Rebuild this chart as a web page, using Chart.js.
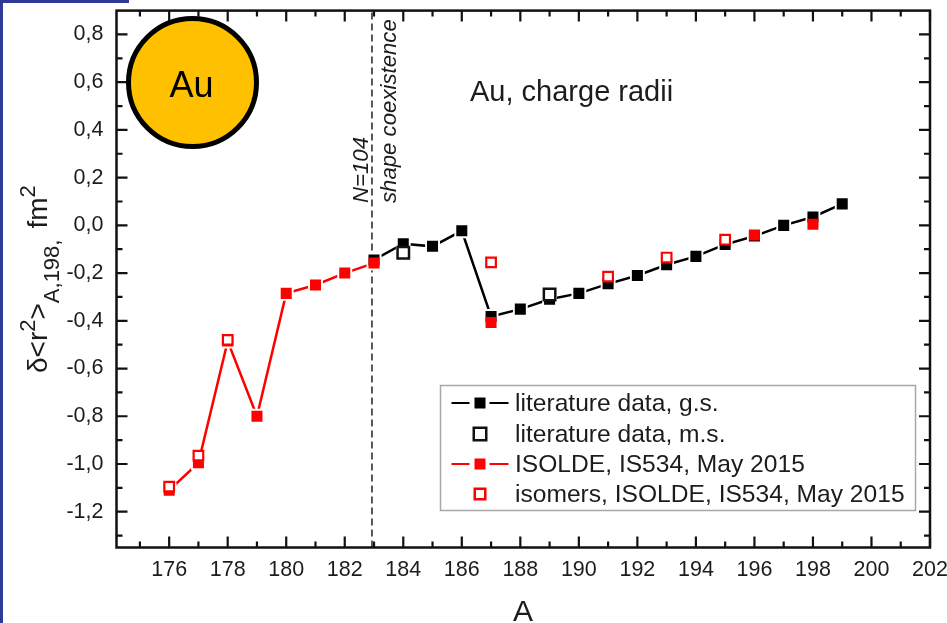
<!DOCTYPE html>
<html>
<head>
<meta charset="utf-8">
<script src="https://cdn.jsdelivr.net/npm/chart.js@4"></script>
<style>
  html, body { margin: 0; padding: 0; background: #fff; overflow: hidden; }
  #wrap { position: relative; width: 947px; height: 623px; }
  #bandLeft { position: absolute; left: 0; top: 0; width: 3px; height: 623px; background: #2e3a97; }
  #bandTop { position: absolute; left: 0; top: 0; width: 129px; height: 3px; background: #2e3a97; }
</style>
</head>
<body>
<div id="wrap">
  <canvas id="myChart" width="947" height="623"></canvas>
  <div id="bandLeft"></div>
  <div id="bandTop"></div>
</div>
<script>
// Valeurs
const masses = [176, 177, 178, 179, 180, 181, 182, 183, 184, 185, 186, 187, 188, 189, 190, 191, 192, 193, 194, 195, 196, 197, 198, 199];
const litGs = [null, null, null, null, null, null, null, -0.145, -0.077, -0.088, -0.023, -0.382, -0.351, -0.31, -0.285, -0.245, -0.21, -0.165, -0.13, -0.08, -0.045, 0, 0.035, 0.09];
const litMs = [null, null, null, null, null, null, null, null, -0.115, null, null, null, null, -0.29, null, null, null, null, null, null, null, null, null, null];
const isoldeGs = [-1.11, -0.995, -0.485, -0.8, -0.285, -0.25, -0.2, -0.158, null, null, null, -0.407, null, null, null, null, null, null, null, null, -0.04, null, 0.005, null];
const isoldeLine = [-1.11, -0.995, -0.485, -0.8, -0.285, -0.25, -0.2, -0.158];
const isomers = [-1.095, -0.965, -0.48, null, null, null, null, null, null, null, null, -0.155, null, null, null, -0.215, null, -0.135, null, -0.06, null, null, null, null];

const xMajor = [176, 178, 180, 182, 184, 186, 188, 190, 192, 194, 196, 198, 200, 202];
const xMinor = [175, 177, 179, 181, 183, 185, 187, 189, 191, 193, 195, 197, 199, 201];
const yMajor = [-1.2, -1, -0.8, -0.6, -0.4, -0.2, 0, 0.2, 0.4, 0.6, 0.8];
const yMinor = [-1.3, -1.1, -0.9, -0.7, -0.5, -0.3, -0.1, 0.1, 0.3, 0.5, 0.7];
const xRange = [174.2, 202];
const yRange = [-1.35, 0.9];
const shapeLineX = 182.93;

const legendLabels = ['literature data, g.s.', 'literature data, m.s.', 'ISOLDE, IS534, May 2015', 'isomers, ISOLDE, IS534, May 2015'];
const FONT = '"Liberation Sans", Arial, sans-serif';
const INK = '#1c1c1c';
const RED = '#ff0000';

function pts(values) {
    return values.map((v, i) => ({ x: masses[i], y: v }));
}

// Cadre et graduations vers l'intérieur, sur les quatre côtés
function drawFrame(chart) {
    const { ctx, chartArea: a, scales: { x, y } } = chart;
    ctx.save();
    ctx.strokeStyle = '#111';
    ctx.lineWidth = 2.2;
    ctx.beginPath();
    const tick = (px, py, dx, dy) => { ctx.moveTo(px, py); ctx.lineTo(px + dx, py + dy); };
    xMajor.forEach(v => { const p = x.getPixelForValue(v); tick(p, a.bottom, 0, -11); tick(p, a.top, 0, 11); });
    xMinor.forEach(v => { const p = x.getPixelForValue(v); tick(p, a.bottom, 0, -6); tick(p, a.top, 0, 6); });
    yMajor.forEach(v => { const p = y.getPixelForValue(v); tick(a.left, p, 11, 0); tick(a.right, p, -11, 0); });
    yMinor.forEach(v => { const p = y.getPixelForValue(v); tick(a.left, p, 6, 0); tick(a.right, p, -6, 0); });
    ctx.stroke();
    ctx.lineWidth = 2.5;
    ctx.strokeRect(a.left, a.top, a.right - a.left, a.bottom - a.top);
    ctx.restore();
}

function drawNotes(chart) {
    const ctx = chart.ctx;
    ctx.save();
    ctx.textBaseline = 'alphabetic';

    // pastille Au
    ctx.beginPath();
    ctx.arc(192.5, 82.5, 64, 0, Math.PI * 2);
    ctx.fillStyle = '#ffc000';
    ctx.fill();
    ctx.lineWidth = 5;
    ctx.strokeStyle = '#000';
    ctx.stroke();
    ctx.fillStyle = '#000';
    ctx.textAlign = 'center';
    ctx.font = '36px ' + FONT;
    ctx.fillText('Au', 191.5, 97);

    ctx.fillStyle = INK;
    ctx.textAlign = 'left';
    ctx.font = '29px ' + FONT;
    ctx.fillText('Au, charge radii', 470, 100.5);
    ctx.font = '30px ' + FONT;
    ctx.fillText('A', 513, 621);

    // textes verticaux
    ctx.font = 'italic 22.2px ' + FONT;
    ctx.save();
    ctx.translate(368, 203);
    ctx.rotate(-Math.PI / 2);
    ctx.fillText('N=104', 0, 0);
    ctx.restore();
    ctx.save();
    ctx.translate(396, 203);
    ctx.rotate(-Math.PI / 2);
    ctx.fillText('shape coexistence', 0, 0);
    ctx.restore();

    // titre de l'axe Y, morceau par morceau
    ctx.save();
    ctx.translate(46.5, 373);
    ctx.rotate(-Math.PI / 2);
    const parts = [
        ['δ<r', 28, 0, 0],
        ['2', 22, -12, 0],
        ['>', 28, 0, 0],
        ['A,198,', 22, 12, 11],
        ['fm', 28, 0, 0],
        ['2', 22, -12, 0]
    ];
    let pos = 0;
    parts.forEach(p => {
        ctx.font = p[1] + 'px ' + FONT;
        ctx.fillText(p[0], pos, p[2]);
        pos += ctx.measureText(p[0]).width + p[3];
    });
    ctx.restore();

    // légende
    ctx.fillStyle = '#fff';
    ctx.fillRect(440.5, 385.5, 475, 125);
    ctx.strokeStyle = '#a8a8a8';
    ctx.lineWidth = 1.5;
    ctx.strokeRect(440.5, 385.5, 475, 125);
    const rowY = [403, 434, 464, 494];
    const sx = 480;
    ctx.font = '24.6px ' + FONT;
    legendLabels.forEach((label, i) => {
        const ly = rowY[i];
        ctx.fillStyle = INK;
        ctx.textAlign = 'left';
        ctx.fillText(label, 515, ly + 8);
        if (i === 0 || i === 2) {
            ctx.strokeStyle = i === 0 ? '#000' : RED;
            ctx.lineWidth = 2.2;
            ctx.beginPath();
            ctx.moveTo(451.5, ly); ctx.lineTo(469.5, ly);
            ctx.moveTo(489.5, ly); ctx.lineTo(508.5, ly);
            ctx.stroke();
            ctx.fillStyle = i === 0 ? '#000' : RED;
            ctx.fillRect(sx - 5.5, ly - 5.5, 11, 11);
        } else {
            ctx.strokeStyle = i === 1 ? '#111' : RED;
            ctx.lineWidth = 2.5;
            const s = i === 1 ? 12.5 : 10.5;
            ctx.strokeRect(sx - s / 2, ly - s / 2, s, s);
        }
    });
    ctx.restore();
}

const frameAndNotes = {
    id: 'frameAndNotes',
    afterDatasetsDraw(chart) {
        drawFrame(chart);
        drawNotes(chart);
    }
};

function axis(range, major, extra) {
    return Object.assign({
        type: 'linear',
        min: range[0],
        max: range[1],
        grid: { display: false },
        border: { display: false },
        afterBuildTicks: s => { s.ticks = major.map(v => ({ value: v })); }
    }, extra);
}

const ctx = document.getElementById('myChart').getContext('2d');
new Chart(ctx, {
    type: 'line',
    data: {
        datasets: [
            // droite N=104
            { data: [{ x: shapeLineX, y: yRange[0] }, { x: shapeLineX, y: yRange[1] }], borderColor: '#222', borderWidth: 1.5, borderDash: [7, 4], pointRadius: 0, order: 9 },
            // lignes, avec un halo blanc qui coupe le trait autour des symboles
            { data: pts(litGs), borderColor: '#000', borderWidth: 2.5, pointStyle: 'rect', pointRadius: 10.5, pointBackgroundColor: '#fff', pointBorderWidth: 0, order: 8 },
            { data: pts(isoldeLine), borderColor: RED, borderWidth: 2.5, pointStyle: 'rect', pointRadius: 10.5, pointBackgroundColor: '#fff', pointBorderWidth: 0, order: 7 },
            // symboles
            { label: legendLabels[0], data: pts(litGs), showLine: false, pointStyle: 'rect', pointRadius: 7.8, pointBackgroundColor: '#000', pointBorderWidth: 0, order: 6 },
            { label: legendLabels[2], data: pts(isoldeGs), showLine: false, pointStyle: 'rect', pointRadius: 7.8, pointBackgroundColor: RED, pointBorderWidth: 0, order: 5 },
            { label: legendLabels[1], data: pts(litMs), showLine: false, pointStyle: 'rect', pointRadius: 8.1, pointBackgroundColor: '#fff', pointBorderColor: '#111', pointBorderWidth: 2.5, order: 4 },
            { label: legendLabels[3], data: pts(isomers), showLine: false, pointStyle: 'rect', pointRadius: 6.8, pointBackgroundColor: '#fff', pointBorderColor: RED, pointBorderWidth: 2.2, order: 3 }
        ]
    },
    options: {
        responsive: false,
        animation: false,
        layout: { padding: { top: 9.5, right: 17, left: 0, bottom: 0 } },
        plugins: { legend: { display: false }, tooltip: { enabled: false } },
        scales: {
            x: axis(xRange, xMajor, {
                afterFit: s => { s.height = 75.5; s.paddingLeft = 0; s.paddingRight = 0; },
                ticks: { maxRotation: 0, autoSkip: false, padding: 2, color: INK, font: { family: FONT, size: 21.5 }, callback: v => String(v) }
            }),
            y: axis(yRange, yMajor, {
                afterFit: s => { s.width = 116.5; s.paddingTop = 0; s.paddingBottom = 0; },
                ticks: { autoSkip: false, padding: 5, color: INK, font: { family: FONT, size: 21.5 }, callback: v => v.toFixed(1).replace('.', ',') }
            })
        }
    },
    plugins: [frameAndNotes]
});
</script>
</body>
</html>
